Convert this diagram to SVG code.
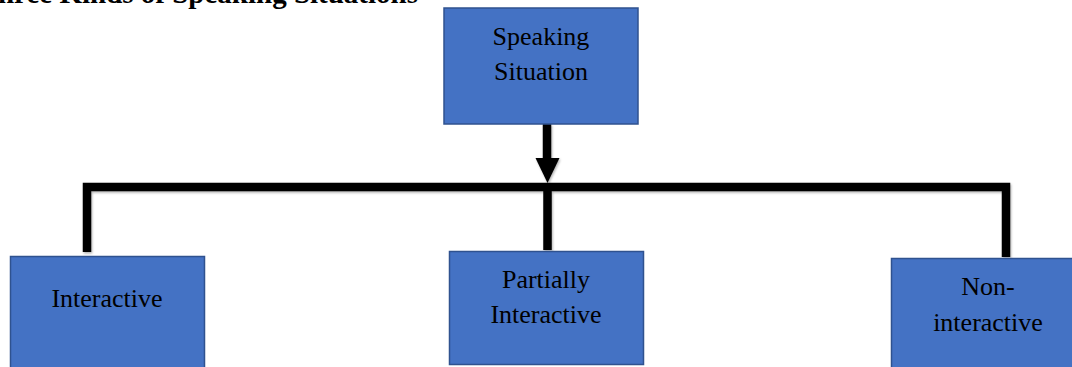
<svg xmlns="http://www.w3.org/2000/svg" width="1072" height="367" viewBox="0 0 1072 367">
<defs>
<style>
.box{fill:#4472C4;stroke:#2F528F;stroke-width:1.5}
.lbl{font-family:"Liberation Serif","Times New Roman",serif;font-size:26px;fill:#000;text-anchor:middle}
.title{font-family:"Liberation Serif","Times New Roman",serif;font-size:29px;font-weight:bold;fill:#000;text-anchor:end}
.conn{fill:none;stroke:#000;stroke-width:8.5;stroke-linecap:butt;stroke-linejoin:miter}
</style>
<filter id="sh" x="-5%" y="-5%" width="110%" height="110%">
<feDropShadow dx="1" dy="1.5" stdDeviation="1.2" flood-color="#000" flood-opacity="0.3"/>
</filter>
</defs>
<rect width="1072" height="367" fill="#fff"/>
<text class="title" x="418" y="3">Three Kinds of Speaking Situations</text>
<g id="connectors" filter="url(#sh)">
<line class="conn" x1="547" y1="124" x2="547" y2="160"/>
<polygon points="535.5,158 559.5,158 547.5,183" fill="#000"/>
<polyline class="conn" points="87,252 87,187 1006,187 1006,257"/>
<line class="conn" x1="547.5" y1="187" x2="547.5" y2="250"/>
</g>
<g id="node-speaking">
<rect class="box" x="444" y="8" width="194" height="116"/>
<text class="lbl" x="541" y="45">Speaking</text>
<text class="lbl" x="541" y="80">Situation</text>
</g>
<g id="node-interactive">
<rect class="box" x="10.5" y="256.5" width="194" height="116"/>
<text class="lbl" x="107" y="307">Interactive</text>
</g>
<g id="node-partial">
<rect class="box" x="449.5" y="251.5" width="194" height="113"/>
<text class="lbl" x="546" y="288">Partially</text>
<text class="lbl" x="546" y="323">Interactive</text>
</g>
<g id="node-noninteractive">
<rect class="box" x="891.5" y="258.5" width="194" height="116"/>
<text class="lbl" x="988" y="295">Non-</text>
<text class="lbl" x="988" y="331">interactive</text>
</g>
</svg>
